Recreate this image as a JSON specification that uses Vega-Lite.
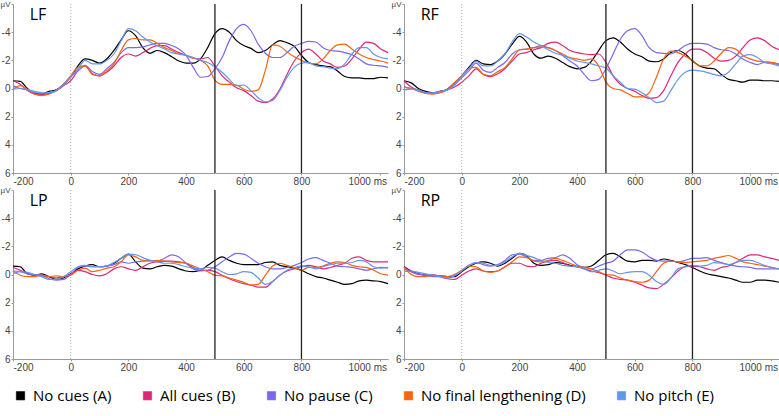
{
"$schema": "https://vega.github.io/schema/vega-lite/v6.json",
"padding": {"left": 0, "top": 0, "right": 0, "bottom": 5},
"background": "white",
"data": {"values": [
{"p":"LF","s":"A","t":-200,"v":-0.55},{"p":"LF","s":"A","t":-175,"v":-0.5},{"p":"LF","s":"A","t":-150,"v":0},{"p":"LF","s":"A","t":-125,"v":0.35},{"p":"LF","s":"A","t":-100,"v":0.4},{"p":"LF","s":"A","t":-75,"v":0.2},{"p":"LF","s":"A","t":-50,"v":0.1},{"p":"LF","s":"A","t":-25,"v":-0.3},{"p":"LF","s":"A","t":0,"v":-0.8},{"p":"LF","s":"A","t":25,"v":-1.6},{"p":"LF","s":"A","t":50,"v":-2.1},{"p":"LF","s":"A","t":75,"v":-2.0},{"p":"LF","s":"A","t":100,"v":-1.8},{"p":"LF","s":"A","t":125,"v":-2.1},{"p":"LF","s":"A","t":150,"v":-2.7},{"p":"LF","s":"A","t":175,"v":-3.45},{"p":"LF","s":"A","t":200,"v":-4.1},{"p":"LF","s":"A","t":225,"v":-3.75},{"p":"LF","s":"A","t":250,"v":-2.9},{"p":"LF","s":"A","t":275,"v":-2.5},{"p":"LF","s":"A","t":300,"v":-2.7},{"p":"LF","s":"A","t":325,"v":-2.55},{"p":"LF","s":"A","t":350,"v":-2.25},{"p":"LF","s":"A","t":375,"v":-1.95},{"p":"LF","s":"A","t":400,"v":-1.8},{"p":"LF","s":"A","t":425,"v":-1.8},{"p":"LF","s":"A","t":450,"v":-2.1},{"p":"LF","s":"A","t":475,"v":-2.9},{"p":"LF","s":"A","t":500,"v":-3.9},{"p":"LF","s":"A","t":525,"v":-4.25},{"p":"LF","s":"A","t":550,"v":-4.0},{"p":"LF","s":"A","t":575,"v":-3.4},{"p":"LF","s":"A","t":600,"v":-3.05},{"p":"LF","s":"A","t":625,"v":-2.85},{"p":"LF","s":"A","t":650,"v":-2.55},{"p":"LF","s":"A","t":675,"v":-2.7},{"p":"LF","s":"A","t":700,"v":-3.1},{"p":"LF","s":"A","t":725,"v":-3.4},{"p":"LF","s":"A","t":750,"v":-3.25},{"p":"LF","s":"A","t":775,"v":-3.0},{"p":"LF","s":"A","t":800,"v":-2.35},{"p":"LF","s":"A","t":825,"v":-1.85},{"p":"LF","s":"A","t":850,"v":-1.7},{"p":"LF","s":"A","t":875,"v":-1.6},{"p":"LF","s":"A","t":900,"v":-1.55},{"p":"LF","s":"A","t":925,"v":-1.25},{"p":"LF","s":"A","t":950,"v":-0.85},{"p":"LF","s":"A","t":975,"v":-0.75},{"p":"LF","s":"A","t":1000,"v":-0.75},{"p":"LF","s":"A","t":1025,"v":-0.7},{"p":"LF","s":"A","t":1050,"v":-0.7},{"p":"LF","s":"A","t":1075,"v":-0.8},{"p":"LF","s":"A","t":1100,"v":-0.75},
{"p":"LF","s":"B","t":-200,"v":-0.55},{"p":"LF","s":"B","t":-175,"v":-0.3},{"p":"LF","s":"B","t":-150,"v":0.15},{"p":"LF","s":"B","t":-125,"v":0.4},{"p":"LF","s":"B","t":-100,"v":0.45},{"p":"LF","s":"B","t":-75,"v":0.35},{"p":"LF","s":"B","t":-50,"v":0.15},{"p":"LF","s":"B","t":-25,"v":-0.2},{"p":"LF","s":"B","t":0,"v":-0.55},{"p":"LF","s":"B","t":25,"v":-1.25},{"p":"LF","s":"B","t":50,"v":-1.6},{"p":"LF","s":"B","t":75,"v":-1.05},{"p":"LF","s":"B","t":100,"v":-0.9},{"p":"LF","s":"B","t":125,"v":-1.15},{"p":"LF","s":"B","t":150,"v":-1.6},{"p":"LF","s":"B","t":175,"v":-2.2},{"p":"LF","s":"B","t":200,"v":-2.45},{"p":"LF","s":"B","t":225,"v":-2.3},{"p":"LF","s":"B","t":250,"v":-2.55},{"p":"LF","s":"B","t":275,"v":-2.85},{"p":"LF","s":"B","t":300,"v":-3.05},{"p":"LF","s":"B","t":325,"v":-3.05},{"p":"LF","s":"B","t":350,"v":-2.8},{"p":"LF","s":"B","t":375,"v":-2.55},{"p":"LF","s":"B","t":400,"v":-2.35},{"p":"LF","s":"B","t":425,"v":-2.15},{"p":"LF","s":"B","t":450,"v":-2.1},{"p":"LF","s":"B","t":475,"v":-2.2},{"p":"LF","s":"B","t":500,"v":-1.6},{"p":"LF","s":"B","t":525,"v":-0.9},{"p":"LF","s":"B","t":550,"v":-0.45},{"p":"LF","s":"B","t":575,"v":-0.05},{"p":"LF","s":"B","t":600,"v":0.15},{"p":"LF","s":"B","t":625,"v":0.5},{"p":"LF","s":"B","t":650,"v":0.9},{"p":"LF","s":"B","t":675,"v":1.0},{"p":"LF","s":"B","t":700,"v":0.75},{"p":"LF","s":"B","t":725,"v":0.05},{"p":"LF","s":"B","t":750,"v":-1.0},{"p":"LF","s":"B","t":775,"v":-1.95},{"p":"LF","s":"B","t":800,"v":-2.55},{"p":"LF","s":"B","t":825,"v":-2.8},{"p":"LF","s":"B","t":850,"v":-2.45},{"p":"LF","s":"B","t":875,"v":-1.95},{"p":"LF","s":"B","t":900,"v":-1.75},{"p":"LF","s":"B","t":925,"v":-1.5},{"p":"LF","s":"B","t":950,"v":-1.6},{"p":"LF","s":"B","t":975,"v":-2.1},{"p":"LF","s":"B","t":1000,"v":-2.8},{"p":"LF","s":"B","t":1025,"v":-3.3},{"p":"LF","s":"B","t":1050,"v":-3.2},{"p":"LF","s":"B","t":1075,"v":-2.8},{"p":"LF","s":"B","t":1100,"v":-2.55},
{"p":"LF","s":"C","t":-200,"v":-0.2},{"p":"LF","s":"C","t":-175,"v":0},{"p":"LF","s":"C","t":-150,"v":0.1},{"p":"LF","s":"C","t":-125,"v":0.3},{"p":"LF","s":"C","t":-100,"v":0.35},{"p":"LF","s":"C","t":-75,"v":0.3},{"p":"LF","s":"C","t":-50,"v":0.15},{"p":"LF","s":"C","t":-25,"v":-0.25},{"p":"LF","s":"C","t":0,"v":-0.85},{"p":"LF","s":"C","t":25,"v":-1.25},{"p":"LF","s":"C","t":50,"v":-1.65},{"p":"LF","s":"C","t":75,"v":-1.2},{"p":"LF","s":"C","t":100,"v":-1.0},{"p":"LF","s":"C","t":125,"v":-1.4},{"p":"LF","s":"C","t":150,"v":-1.85},{"p":"LF","s":"C","t":175,"v":-2.55},{"p":"LF","s":"C","t":200,"v":-2.9},{"p":"LF","s":"C","t":225,"v":-2.9},{"p":"LF","s":"C","t":250,"v":-2.95},{"p":"LF","s":"C","t":275,"v":-3.1},{"p":"LF","s":"C","t":300,"v":-3.2},{"p":"LF","s":"C","t":325,"v":-3.2},{"p":"LF","s":"C","t":350,"v":-3.05},{"p":"LF","s":"C","t":375,"v":-2.8},{"p":"LF","s":"C","t":400,"v":-2.35},{"p":"LF","s":"C","t":425,"v":-1.5},{"p":"LF","s":"C","t":450,"v":-0.8},{"p":"LF","s":"C","t":475,"v":-0.85},{"p":"LF","s":"C","t":500,"v":-1.4},{"p":"LF","s":"C","t":525,"v":-2.2},{"p":"LF","s":"C","t":550,"v":-3.4},{"p":"LF","s":"C","t":575,"v":-4.25},{"p":"LF","s":"C","t":600,"v":-4.55},{"p":"LF","s":"C","t":625,"v":-4.1},{"p":"LF","s":"C","t":650,"v":-3.15},{"p":"LF","s":"C","t":675,"v":-2.5},{"p":"LF","s":"C","t":700,"v":-2.2},{"p":"LF","s":"C","t":725,"v":-2.2},{"p":"LF","s":"C","t":750,"v":-2.55},{"p":"LF","s":"C","t":775,"v":-3.0},{"p":"LF","s":"C","t":800,"v":-3.2},{"p":"LF","s":"C","t":825,"v":-3.35},{"p":"LF","s":"C","t":850,"v":-3.3},{"p":"LF","s":"C","t":875,"v":-2.9},{"p":"LF","s":"C","t":900,"v":-2.7},{"p":"LF","s":"C","t":925,"v":-2.65},{"p":"LF","s":"C","t":950,"v":-2.55},{"p":"LF","s":"C","t":975,"v":-2.4},{"p":"LF","s":"C","t":1000,"v":-2.1},{"p":"LF","s":"C","t":1025,"v":-1.75},{"p":"LF","s":"C","t":1050,"v":-1.65},{"p":"LF","s":"C","t":1075,"v":-1.6},{"p":"LF","s":"C","t":1100,"v":-1.5},
{"p":"LF","s":"D","t":-200,"v":0.05},{"p":"LF","s":"D","t":-175,"v":-0.2},{"p":"LF","s":"D","t":-150,"v":0.05},{"p":"LF","s":"D","t":-125,"v":0.4},{"p":"LF","s":"D","t":-100,"v":0.5},{"p":"LF","s":"D","t":-75,"v":0.4},{"p":"LF","s":"D","t":-50,"v":0.15},{"p":"LF","s":"D","t":-25,"v":-0.3},{"p":"LF","s":"D","t":0,"v":-0.9},{"p":"LF","s":"D","t":25,"v":-1.5},{"p":"LF","s":"D","t":50,"v":-1.6},{"p":"LF","s":"D","t":75,"v":-1.0},{"p":"LF","s":"D","t":100,"v":-0.9},{"p":"LF","s":"D","t":125,"v":-1.25},{"p":"LF","s":"D","t":150,"v":-1.75},{"p":"LF","s":"D","t":175,"v":-2.7},{"p":"LF","s":"D","t":200,"v":-3.45},{"p":"LF","s":"D","t":225,"v":-3.55},{"p":"LF","s":"D","t":250,"v":-3.45},{"p":"LF","s":"D","t":275,"v":-3.45},{"p":"LF","s":"D","t":300,"v":-3.2},{"p":"LF","s":"D","t":325,"v":-2.9},{"p":"LF","s":"D","t":350,"v":-2.7},{"p":"LF","s":"D","t":375,"v":-2.45},{"p":"LF","s":"D","t":400,"v":-2.35},{"p":"LF","s":"D","t":425,"v":-2.15},{"p":"LF","s":"D","t":450,"v":-2.0},{"p":"LF","s":"D","t":475,"v":-1.6},{"p":"LF","s":"D","t":500,"v":-0.6},{"p":"LF","s":"D","t":525,"v":-0.3},{"p":"LF","s":"D","t":550,"v":-0.3},{"p":"LF","s":"D","t":575,"v":-0.25},{"p":"LF","s":"D","t":600,"v":0.05},{"p":"LF","s":"D","t":625,"v":0.2},{"p":"LF","s":"D","t":650,"v":0.1},{"p":"LF","s":"D","t":675,"v":-1.3},{"p":"LF","s":"D","t":700,"v":-3.1},{"p":"LF","s":"D","t":725,"v":-3.0},{"p":"LF","s":"D","t":750,"v":-2.6},{"p":"LF","s":"D","t":775,"v":-2.25},{"p":"LF","s":"D","t":800,"v":-2.0},{"p":"LF","s":"D","t":825,"v":-1.8},{"p":"LF","s":"D","t":850,"v":-1.75},{"p":"LF","s":"D","t":875,"v":-2.1},{"p":"LF","s":"D","t":900,"v":-2.7},{"p":"LF","s":"D","t":925,"v":-3.1},{"p":"LF","s":"D","t":950,"v":-3.15},{"p":"LF","s":"D","t":975,"v":-2.8},{"p":"LF","s":"D","t":1000,"v":-2.45},{"p":"LF","s":"D","t":1025,"v":-2.2},{"p":"LF","s":"D","t":1050,"v":-2.05},{"p":"LF","s":"D","t":1075,"v":-1.95},{"p":"LF","s":"D","t":1100,"v":-1.8},
{"p":"LF","s":"E","t":-200,"v":0.05},{"p":"LF","s":"E","t":-175,"v":0},{"p":"LF","s":"E","t":-150,"v":0.1},{"p":"LF","s":"E","t":-125,"v":0.2},{"p":"LF","s":"E","t":-100,"v":0.3},{"p":"LF","s":"E","t":-75,"v":0.3},{"p":"LF","s":"E","t":-50,"v":0.15},{"p":"LF","s":"E","t":-25,"v":-0.3},{"p":"LF","s":"E","t":0,"v":-0.8},{"p":"LF","s":"E","t":25,"v":-1.4},{"p":"LF","s":"E","t":50,"v":-2.0},{"p":"LF","s":"E","t":75,"v":-1.75},{"p":"LF","s":"E","t":100,"v":-1.75},{"p":"LF","s":"E","t":125,"v":-2.0},{"p":"LF","s":"E","t":150,"v":-2.45},{"p":"LF","s":"E","t":175,"v":-3.4},{"p":"LF","s":"E","t":200,"v":-4.25},{"p":"LF","s":"E","t":225,"v":-4.1},{"p":"LF","s":"E","t":250,"v":-3.65},{"p":"LF","s":"E","t":275,"v":-3.3},{"p":"LF","s":"E","t":300,"v":-3.05},{"p":"LF","s":"E","t":325,"v":-2.8},{"p":"LF","s":"E","t":350,"v":-2.55},{"p":"LF","s":"E","t":375,"v":-2.45},{"p":"LF","s":"E","t":400,"v":-2.35},{"p":"LF","s":"E","t":425,"v":-2.2},{"p":"LF","s":"E","t":450,"v":-2.0},{"p":"LF","s":"E","t":475,"v":-1.85},{"p":"LF","s":"E","t":500,"v":-1.55},{"p":"LF","s":"E","t":525,"v":-1.15},{"p":"LF","s":"E","t":550,"v":-0.65},{"p":"LF","s":"E","t":575,"v":-0.2},{"p":"LF","s":"E","t":600,"v":-0.25},{"p":"LF","s":"E","t":625,"v":0.15},{"p":"LF","s":"E","t":650,"v":0.65},{"p":"LF","s":"E","t":675,"v":0.95},{"p":"LF","s":"E","t":700,"v":0.85},{"p":"LF","s":"E","t":725,"v":0.15},{"p":"LF","s":"E","t":750,"v":-0.8},{"p":"LF","s":"E","t":775,"v":-1.5},{"p":"LF","s":"E","t":800,"v":-1.8},{"p":"LF","s":"E","t":825,"v":-1.85},{"p":"LF","s":"E","t":850,"v":-1.6},{"p":"LF","s":"E","t":875,"v":-1.55},{"p":"LF","s":"E","t":900,"v":-1.45},{"p":"LF","s":"E","t":925,"v":-1.4},{"p":"LF","s":"E","t":950,"v":-1.75},{"p":"LF","s":"E","t":975,"v":-2.45},{"p":"LF","s":"E","t":1000,"v":-2.9},{"p":"LF","s":"E","t":1025,"v":-2.9},{"p":"LF","s":"E","t":1050,"v":-2.45},{"p":"LF","s":"E","t":1075,"v":-2.2},{"p":"LF","s":"E","t":1100,"v":-2.1},
{"p":"RF","s":"A","t":-200,"v":-0.55},{"p":"RF","s":"A","t":-175,"v":-0.4},{"p":"RF","s":"A","t":-150,"v":0},{"p":"RF","s":"A","t":-125,"v":0.2},{"p":"RF","s":"A","t":-100,"v":0.3},{"p":"RF","s":"A","t":-75,"v":0.2},{"p":"RF","s":"A","t":-50,"v":0.05},{"p":"RF","s":"A","t":-25,"v":-0.4},{"p":"RF","s":"A","t":0,"v":-0.9},{"p":"RF","s":"A","t":25,"v":-1.5},{"p":"RF","s":"A","t":50,"v":-2.0},{"p":"RF","s":"A","t":75,"v":-1.75},{"p":"RF","s":"A","t":100,"v":-1.7},{"p":"RF","s":"A","t":125,"v":-1.95},{"p":"RF","s":"A","t":150,"v":-2.45},{"p":"RF","s":"A","t":175,"v":-3.15},{"p":"RF","s":"A","t":200,"v":-3.7},{"p":"RF","s":"A","t":225,"v":-3.3},{"p":"RF","s":"A","t":250,"v":-2.45},{"p":"RF","s":"A","t":275,"v":-2.15},{"p":"RF","s":"A","t":300,"v":-2.3},{"p":"RF","s":"A","t":325,"v":-2.15},{"p":"RF","s":"A","t":350,"v":-1.85},{"p":"RF","s":"A","t":375,"v":-1.55},{"p":"RF","s":"A","t":400,"v":-1.4},{"p":"RF","s":"A","t":425,"v":-1.5},{"p":"RF","s":"A","t":450,"v":-1.95},{"p":"RF","s":"A","t":475,"v":-2.7},{"p":"RF","s":"A","t":500,"v":-3.4},{"p":"RF","s":"A","t":525,"v":-3.6},{"p":"RF","s":"A","t":550,"v":-3.3},{"p":"RF","s":"A","t":575,"v":-2.8},{"p":"RF","s":"A","t":600,"v":-2.45},{"p":"RF","s":"A","t":625,"v":-2.25},{"p":"RF","s":"A","t":650,"v":-1.95},{"p":"RF","s":"A","t":675,"v":-1.9},{"p":"RF","s":"A","t":700,"v":-2.1},{"p":"RF","s":"A","t":725,"v":-2.55},{"p":"RF","s":"A","t":750,"v":-2.7},{"p":"RF","s":"A","t":775,"v":-2.45},{"p":"RF","s":"A","t":800,"v":-1.95},{"p":"RF","s":"A","t":825,"v":-1.6},{"p":"RF","s":"A","t":850,"v":-1.45},{"p":"RF","s":"A","t":875,"v":-1.4},{"p":"RF","s":"A","t":900,"v":-1.0},{"p":"RF","s":"A","t":925,"v":-0.65},{"p":"RF","s":"A","t":950,"v":-0.55},{"p":"RF","s":"A","t":975,"v":-0.45},{"p":"RF","s":"A","t":1000,"v":-0.6},{"p":"RF","s":"A","t":1025,"v":-0.6},{"p":"RF","s":"A","t":1050,"v":-0.55},{"p":"RF","s":"A","t":1075,"v":-0.55},{"p":"RF","s":"A","t":1100,"v":-0.5},
{"p":"RF","s":"B","t":-200,"v":-0.55},{"p":"RF","s":"B","t":-175,"v":-0.1},{"p":"RF","s":"B","t":-150,"v":0.15},{"p":"RF","s":"B","t":-125,"v":0.3},{"p":"RF","s":"B","t":-100,"v":0.35},{"p":"RF","s":"B","t":-75,"v":0.2},{"p":"RF","s":"B","t":-50,"v":0.1},{"p":"RF","s":"B","t":-25,"v":-0.1},{"p":"RF","s":"B","t":0,"v":-0.45},{"p":"RF","s":"B","t":25,"v":-0.9},{"p":"RF","s":"B","t":50,"v":-1.4},{"p":"RF","s":"B","t":75,"v":-1.0},{"p":"RF","s":"B","t":100,"v":-0.85},{"p":"RF","s":"B","t":125,"v":-1.05},{"p":"RF","s":"B","t":150,"v":-1.4},{"p":"RF","s":"B","t":175,"v":-1.95},{"p":"RF","s":"B","t":200,"v":-2.45},{"p":"RF","s":"B","t":225,"v":-2.55},{"p":"RF","s":"B","t":250,"v":-2.75},{"p":"RF","s":"B","t":275,"v":-2.9},{"p":"RF","s":"B","t":300,"v":-3.2},{"p":"RF","s":"B","t":325,"v":-3.3},{"p":"RF","s":"B","t":350,"v":-3.05},{"p":"RF","s":"B","t":375,"v":-2.7},{"p":"RF","s":"B","t":400,"v":-2.55},{"p":"RF","s":"B","t":425,"v":-2.45},{"p":"RF","s":"B","t":450,"v":-2.4},{"p":"RF","s":"B","t":475,"v":-2.45},{"p":"RF","s":"B","t":500,"v":-1.85},{"p":"RF","s":"B","t":525,"v":-0.9},{"p":"RF","s":"B","t":550,"v":-0.3},{"p":"RF","s":"B","t":575,"v":0},{"p":"RF","s":"B","t":600,"v":0.2},{"p":"RF","s":"B","t":625,"v":0.5},{"p":"RF","s":"B","t":650,"v":0.7},{"p":"RF","s":"B","t":675,"v":0.65},{"p":"RF","s":"B","t":700,"v":0.15},{"p":"RF","s":"B","t":725,"v":-0.9},{"p":"RF","s":"B","t":750,"v":-1.85},{"p":"RF","s":"B","t":775,"v":-2.45},{"p":"RF","s":"B","t":800,"v":-2.8},{"p":"RF","s":"B","t":825,"v":-2.8},{"p":"RF","s":"B","t":850,"v":-2.55},{"p":"RF","s":"B","t":875,"v":-2.15},{"p":"RF","s":"B","t":900,"v":-1.95},{"p":"RF","s":"B","t":925,"v":-2.0},{"p":"RF","s":"B","t":950,"v":-2.3},{"p":"RF","s":"B","t":975,"v":-2.9},{"p":"RF","s":"B","t":1000,"v":-3.45},{"p":"RF","s":"B","t":1025,"v":-3.6},{"p":"RF","s":"B","t":1050,"v":-3.4},{"p":"RF","s":"B","t":1075,"v":-3.0},{"p":"RF","s":"B","t":1100,"v":-2.75},
{"p":"RF","s":"C","t":-200,"v":-0.1},{"p":"RF","s":"C","t":-175,"v":0},{"p":"RF","s":"C","t":-150,"v":0.1},{"p":"RF","s":"C","t":-125,"v":0.3},{"p":"RF","s":"C","t":-100,"v":0.35},{"p":"RF","s":"C","t":-75,"v":0.3},{"p":"RF","s":"C","t":-50,"v":0.1},{"p":"RF","s":"C","t":-25,"v":-0.25},{"p":"RF","s":"C","t":0,"v":-0.75},{"p":"RF","s":"C","t":25,"v":-1.25},{"p":"RF","s":"C","t":50,"v":-1.8},{"p":"RF","s":"C","t":75,"v":-1.3},{"p":"RF","s":"C","t":100,"v":-1.15},{"p":"RF","s":"C","t":125,"v":-1.5},{"p":"RF","s":"C","t":150,"v":-1.85},{"p":"RF","s":"C","t":175,"v":-2.45},{"p":"RF","s":"C","t":200,"v":-2.75},{"p":"RF","s":"C","t":225,"v":-2.8},{"p":"RF","s":"C","t":250,"v":-2.9},{"p":"RF","s":"C","t":275,"v":-3.05},{"p":"RF","s":"C","t":300,"v":-2.9},{"p":"RF","s":"C","t":325,"v":-2.7},{"p":"RF","s":"C","t":350,"v":-2.35},{"p":"RF","s":"C","t":375,"v":-1.95},{"p":"RF","s":"C","t":400,"v":-1.6},{"p":"RF","s":"C","t":425,"v":-1.0},{"p":"RF","s":"C","t":450,"v":-0.55},{"p":"RF","s":"C","t":475,"v":-0.65},{"p":"RF","s":"C","t":500,"v":-1.4},{"p":"RF","s":"C","t":525,"v":-2.45},{"p":"RF","s":"C","t":550,"v":-3.5},{"p":"RF","s":"C","t":575,"v":-4.1},{"p":"RF","s":"C","t":600,"v":-4.25},{"p":"RF","s":"C","t":625,"v":-3.75},{"p":"RF","s":"C","t":650,"v":-2.9},{"p":"RF","s":"C","t":675,"v":-2.55},{"p":"RF","s":"C","t":700,"v":-2.5},{"p":"RF","s":"C","t":725,"v":-2.45},{"p":"RF","s":"C","t":750,"v":-2.7},{"p":"RF","s":"C","t":775,"v":-3.05},{"p":"RF","s":"C","t":800,"v":-3.2},{"p":"RF","s":"C","t":825,"v":-3.2},{"p":"RF","s":"C","t":850,"v":-3.15},{"p":"RF","s":"C","t":875,"v":-2.9},{"p":"RF","s":"C","t":900,"v":-2.75},{"p":"RF","s":"C","t":925,"v":-2.7},{"p":"RF","s":"C","t":950,"v":-2.45},{"p":"RF","s":"C","t":975,"v":-2.1},{"p":"RF","s":"C","t":1000,"v":-1.85},{"p":"RF","s":"C","t":1025,"v":-1.7},{"p":"RF","s":"C","t":1050,"v":-1.85},{"p":"RF","s":"C","t":1075,"v":-1.8},{"p":"RF","s":"C","t":1100,"v":-1.7},
{"p":"RF","s":"D","t":-200,"v":-0.1},{"p":"RF","s":"D","t":-175,"v":0},{"p":"RF","s":"D","t":-150,"v":0.2},{"p":"RF","s":"D","t":-125,"v":0.35},{"p":"RF","s":"D","t":-100,"v":0.4},{"p":"RF","s":"D","t":-75,"v":0.3},{"p":"RF","s":"D","t":-50,"v":0.05},{"p":"RF","s":"D","t":-25,"v":-0.4},{"p":"RF","s":"D","t":0,"v":-0.9},{"p":"RF","s":"D","t":25,"v":-1.4},{"p":"RF","s":"D","t":50,"v":-1.5},{"p":"RF","s":"D","t":75,"v":-1.0},{"p":"RF","s":"D","t":100,"v":-0.9},{"p":"RF","s":"D","t":125,"v":-1.2},{"p":"RF","s":"D","t":150,"v":-1.5},{"p":"RF","s":"D","t":175,"v":-2.1},{"p":"RF","s":"D","t":200,"v":-2.75},{"p":"RF","s":"D","t":225,"v":-2.8},{"p":"RF","s":"D","t":250,"v":-2.9},{"p":"RF","s":"D","t":275,"v":-2.95},{"p":"RF","s":"D","t":300,"v":-2.9},{"p":"RF","s":"D","t":325,"v":-2.7},{"p":"RF","s":"D","t":350,"v":-2.45},{"p":"RF","s":"D","t":375,"v":-2.2},{"p":"RF","s":"D","t":400,"v":-2.1},{"p":"RF","s":"D","t":425,"v":-2.0},{"p":"RF","s":"D","t":450,"v":-2.1},{"p":"RF","s":"D","t":475,"v":-1.6},{"p":"RF","s":"D","t":500,"v":-0.45},{"p":"RF","s":"D","t":525,"v":0},{"p":"RF","s":"D","t":550,"v":0.1},{"p":"RF","s":"D","t":575,"v":0.35},{"p":"RF","s":"D","t":600,"v":0.6},{"p":"RF","s":"D","t":625,"v":0.6},{"p":"RF","s":"D","t":650,"v":0.3},{"p":"RF","s":"D","t":675,"v":-0.8},{"p":"RF","s":"D","t":700,"v":-2.1},{"p":"RF","s":"D","t":725,"v":-2.65},{"p":"RF","s":"D","t":750,"v":-2.55},{"p":"RF","s":"D","t":775,"v":-2.3},{"p":"RF","s":"D","t":800,"v":-2.0},{"p":"RF","s":"D","t":825,"v":-1.6},{"p":"RF","s":"D","t":850,"v":-1.6},{"p":"RF","s":"D","t":875,"v":-1.95},{"p":"RF","s":"D","t":900,"v":-2.5},{"p":"RF","s":"D","t":925,"v":-2.9},{"p":"RF","s":"D","t":950,"v":-2.8},{"p":"RF","s":"D","t":975,"v":-2.35},{"p":"RF","s":"D","t":1000,"v":-2.1},{"p":"RF","s":"D","t":1025,"v":-1.95},{"p":"RF","s":"D","t":1050,"v":-1.9},{"p":"RF","s":"D","t":1075,"v":-1.85},{"p":"RF","s":"D","t":1100,"v":-1.75},
{"p":"RF","s":"E","t":-200,"v":0.1},{"p":"RF","s":"E","t":-175,"v":0.05},{"p":"RF","s":"E","t":-150,"v":0.15},{"p":"RF","s":"E","t":-125,"v":0.3},{"p":"RF","s":"E","t":-100,"v":0.3},{"p":"RF","s":"E","t":-75,"v":0.2},{"p":"RF","s":"E","t":-50,"v":0.1},{"p":"RF","s":"E","t":-25,"v":-0.3},{"p":"RF","s":"E","t":0,"v":-0.85},{"p":"RF","s":"E","t":25,"v":-1.4},{"p":"RF","s":"E","t":50,"v":-1.95},{"p":"RF","s":"E","t":75,"v":-1.6},{"p":"RF","s":"E","t":100,"v":-1.6},{"p":"RF","s":"E","t":125,"v":-1.95},{"p":"RF","s":"E","t":150,"v":-2.45},{"p":"RF","s":"E","t":175,"v":-3.3},{"p":"RF","s":"E","t":200,"v":-3.9},{"p":"RF","s":"E","t":225,"v":-3.65},{"p":"RF","s":"E","t":250,"v":-3.3},{"p":"RF","s":"E","t":275,"v":-3.05},{"p":"RF","s":"E","t":300,"v":-2.75},{"p":"RF","s":"E","t":325,"v":-2.5},{"p":"RF","s":"E","t":350,"v":-2.35},{"p":"RF","s":"E","t":375,"v":-2.15},{"p":"RF","s":"E","t":400,"v":-1.95},{"p":"RF","s":"E","t":425,"v":-1.85},{"p":"RF","s":"E","t":450,"v":-1.75},{"p":"RF","s":"E","t":475,"v":-1.6},{"p":"RF","s":"E","t":500,"v":-1.45},{"p":"RF","s":"E","t":525,"v":-0.9},{"p":"RF","s":"E","t":550,"v":-0.45},{"p":"RF","s":"E","t":575,"v":0},{"p":"RF","s":"E","t":600,"v":0.05},{"p":"RF","s":"E","t":625,"v":0.3},{"p":"RF","s":"E","t":650,"v":0.65},{"p":"RF","s":"E","t":675,"v":1.0},{"p":"RF","s":"E","t":700,"v":0.9},{"p":"RF","s":"E","t":725,"v":0.15},{"p":"RF","s":"E","t":750,"v":-0.65},{"p":"RF","s":"E","t":775,"v":-1.15},{"p":"RF","s":"E","t":800,"v":-1.3},{"p":"RF","s":"E","t":825,"v":-1.25},{"p":"RF","s":"E","t":850,"v":-1.15},{"p":"RF","s":"E","t":875,"v":-1.0},{"p":"RF","s":"E","t":900,"v":-0.9},{"p":"RF","s":"E","t":925,"v":-1.15},{"p":"RF","s":"E","t":950,"v":-1.75},{"p":"RF","s":"E","t":975,"v":-2.3},{"p":"RF","s":"E","t":1000,"v":-2.4},{"p":"RF","s":"E","t":1025,"v":-2.2},{"p":"RF","s":"E","t":1050,"v":-1.85},{"p":"RF","s":"E","t":1075,"v":-1.75},{"p":"RF","s":"E","t":1100,"v":-1.6},
{"p":"LP","s":"A","t":-200,"v":-0.6},{"p":"LP","s":"A","t":-175,"v":-0.55},{"p":"LP","s":"A","t":-150,"v":-0.05},{"p":"LP","s":"A","t":-125,"v":0.05},{"p":"LP","s":"A","t":-100,"v":-0.05},{"p":"LP","s":"A","t":-75,"v":0.15},{"p":"LP","s":"A","t":-50,"v":0.35},{"p":"LP","s":"A","t":-25,"v":0.25},{"p":"LP","s":"A","t":0,"v":-0.05},{"p":"LP","s":"A","t":25,"v":-0.4},{"p":"LP","s":"A","t":50,"v":-0.6},{"p":"LP","s":"A","t":75,"v":-0.7},{"p":"LP","s":"A","t":100,"v":-0.55},{"p":"LP","s":"A","t":125,"v":-0.6},{"p":"LP","s":"A","t":150,"v":-0.8},{"p":"LP","s":"A","t":175,"v":-1.15},{"p":"LP","s":"A","t":200,"v":-1.45},{"p":"LP","s":"A","t":225,"v":-0.9},{"p":"LP","s":"A","t":250,"v":-0.45},{"p":"LP","s":"A","t":275,"v":-0.4},{"p":"LP","s":"A","t":300,"v":-0.55},{"p":"LP","s":"A","t":325,"v":-0.65},{"p":"LP","s":"A","t":350,"v":-0.6},{"p":"LP","s":"A","t":375,"v":-0.4},{"p":"LP","s":"A","t":400,"v":-0.25},{"p":"LP","s":"A","t":425,"v":-0.2},{"p":"LP","s":"A","t":450,"v":-0.3},{"p":"LP","s":"A","t":475,"v":-0.65},{"p":"LP","s":"A","t":500,"v":-1.0},{"p":"LP","s":"A","t":525,"v":-1.25},{"p":"LP","s":"A","t":550,"v":-1.0},{"p":"LP","s":"A","t":575,"v":-0.8},{"p":"LP","s":"A","t":600,"v":-0.7},{"p":"LP","s":"A","t":625,"v":-0.7},{"p":"LP","s":"A","t":650,"v":-0.7},{"p":"LP","s":"A","t":675,"v":-0.85},{"p":"LP","s":"A","t":700,"v":-0.9},{"p":"LP","s":"A","t":725,"v":-0.65},{"p":"LP","s":"A","t":750,"v":-0.55},{"p":"LP","s":"A","t":775,"v":-0.45},{"p":"LP","s":"A","t":800,"v":-0.3},{"p":"LP","s":"A","t":825,"v":-0.05},{"p":"LP","s":"A","t":850,"v":0.15},{"p":"LP","s":"A","t":875,"v":0.25},{"p":"LP","s":"A","t":900,"v":0.4},{"p":"LP","s":"A","t":925,"v":0.55},{"p":"LP","s":"A","t":950,"v":0.7},{"p":"LP","s":"A","t":975,"v":0.65},{"p":"LP","s":"A","t":1000,"v":0.45},{"p":"LP","s":"A","t":1025,"v":0.4},{"p":"LP","s":"A","t":1050,"v":0.45},{"p":"LP","s":"A","t":1075,"v":0.5},{"p":"LP","s":"A","t":1100,"v":0.65},
{"p":"LP","s":"B","t":-200,"v":-0.5},{"p":"LP","s":"B","t":-175,"v":-0.3},{"p":"LP","s":"B","t":-150,"v":-0.05},{"p":"LP","s":"B","t":-125,"v":0.05},{"p":"LP","s":"B","t":-100,"v":0.1},{"p":"LP","s":"B","t":-75,"v":0.15},{"p":"LP","s":"B","t":-50,"v":0.25},{"p":"LP","s":"B","t":-25,"v":0.15},{"p":"LP","s":"B","t":0,"v":0.05},{"p":"LP","s":"B","t":25,"v":-0.3},{"p":"LP","s":"B","t":50,"v":-0.2},{"p":"LP","s":"B","t":75,"v":0},{"p":"LP","s":"B","t":100,"v":0.1},{"p":"LP","s":"B","t":125,"v":-0.05},{"p":"LP","s":"B","t":150,"v":-0.4},{"p":"LP","s":"B","t":175,"v":-0.55},{"p":"LP","s":"B","t":200,"v":-0.4},{"p":"LP","s":"B","t":225,"v":-0.3},{"p":"LP","s":"B","t":250,"v":-0.55},{"p":"LP","s":"B","t":275,"v":-0.8},{"p":"LP","s":"B","t":300,"v":-0.9},{"p":"LP","s":"B","t":325,"v":-0.95},{"p":"LP","s":"B","t":350,"v":-0.95},{"p":"LP","s":"B","t":375,"v":-0.9},{"p":"LP","s":"B","t":400,"v":-0.8},{"p":"LP","s":"B","t":425,"v":-0.5},{"p":"LP","s":"B","t":450,"v":-0.3},{"p":"LP","s":"B","t":475,"v":-0.3},{"p":"LP","s":"B","t":500,"v":-0.2},{"p":"LP","s":"B","t":525,"v":0.05},{"p":"LP","s":"B","t":550,"v":0.3},{"p":"LP","s":"B","t":575,"v":0.5},{"p":"LP","s":"B","t":600,"v":0.65},{"p":"LP","s":"B","t":625,"v":0.75},{"p":"LP","s":"B","t":650,"v":0.9},{"p":"LP","s":"B","t":675,"v":0.9},{"p":"LP","s":"B","t":700,"v":0.5},{"p":"LP","s":"B","t":725,"v":0.05},{"p":"LP","s":"B","t":750,"v":-0.25},{"p":"LP","s":"B","t":775,"v":-0.4},{"p":"LP","s":"B","t":800,"v":-0.55},{"p":"LP","s":"B","t":825,"v":-0.65},{"p":"LP","s":"B","t":850,"v":-0.55},{"p":"LP","s":"B","t":875,"v":-0.4},{"p":"LP","s":"B","t":900,"v":-0.5},{"p":"LP","s":"B","t":925,"v":-0.65},{"p":"LP","s":"B","t":950,"v":-0.8},{"p":"LP","s":"B","t":975,"v":-1.15},{"p":"LP","s":"B","t":1000,"v":-1.25},{"p":"LP","s":"B","t":1025,"v":-1.0},{"p":"LP","s":"B","t":1050,"v":-0.9},{"p":"LP","s":"B","t":1075,"v":-0.9},{"p":"LP","s":"B","t":1100,"v":-0.9},
{"p":"LP","s":"C","t":-200,"v":-0.25},{"p":"LP","s":"C","t":-175,"v":-0.2},{"p":"LP","s":"C","t":-150,"v":-0.05},{"p":"LP","s":"C","t":-125,"v":0},{"p":"LP","s":"C","t":-100,"v":0.05},{"p":"LP","s":"C","t":-75,"v":0.3},{"p":"LP","s":"C","t":-50,"v":0.4},{"p":"LP","s":"C","t":-25,"v":0.35},{"p":"LP","s":"C","t":0,"v":0},{"p":"LP","s":"C","t":25,"v":-0.5},{"p":"LP","s":"C","t":50,"v":-0.6},{"p":"LP","s":"C","t":75,"v":-0.55},{"p":"LP","s":"C","t":100,"v":-0.55},{"p":"LP","s":"C","t":125,"v":-0.6},{"p":"LP","s":"C","t":150,"v":-0.7},{"p":"LP","s":"C","t":175,"v":-0.9},{"p":"LP","s":"C","t":200,"v":-0.8},{"p":"LP","s":"C","t":225,"v":-0.9},{"p":"LP","s":"C","t":250,"v":-0.95},{"p":"LP","s":"C","t":275,"v":-1.0},{"p":"LP","s":"C","t":300,"v":-0.95},{"p":"LP","s":"C","t":325,"v":-1.15},{"p":"LP","s":"C","t":350,"v":-1.4},{"p":"LP","s":"C","t":375,"v":-1.25},{"p":"LP","s":"C","t":400,"v":-0.8},{"p":"LP","s":"C","t":425,"v":-0.4},{"p":"LP","s":"C","t":450,"v":-0.25},{"p":"LP","s":"C","t":475,"v":-0.3},{"p":"LP","s":"C","t":500,"v":-0.55},{"p":"LP","s":"C","t":525,"v":-0.9},{"p":"LP","s":"C","t":550,"v":-1.25},{"p":"LP","s":"C","t":575,"v":-1.5},{"p":"LP","s":"C","t":600,"v":-1.45},{"p":"LP","s":"C","t":625,"v":-1.15},{"p":"LP","s":"C","t":650,"v":-0.8},{"p":"LP","s":"C","t":675,"v":-0.55},{"p":"LP","s":"C","t":700,"v":-0.4},{"p":"LP","s":"C","t":725,"v":-0.4},{"p":"LP","s":"C","t":750,"v":-0.5},{"p":"LP","s":"C","t":775,"v":-0.65},{"p":"LP","s":"C","t":800,"v":-0.85},{"p":"LP","s":"C","t":825,"v":-1.1},{"p":"LP","s":"C","t":850,"v":-1.2},{"p":"LP","s":"C","t":875,"v":-1.0},{"p":"LP","s":"C","t":900,"v":-0.8},{"p":"LP","s":"C","t":925,"v":-0.6},{"p":"LP","s":"C","t":950,"v":-0.55},{"p":"LP","s":"C","t":975,"v":-0.5},{"p":"LP","s":"C","t":1000,"v":-0.4},{"p":"LP","s":"C","t":1025,"v":-0.3},{"p":"LP","s":"C","t":1050,"v":-0.4},{"p":"LP","s":"C","t":1075,"v":-0.5},{"p":"LP","s":"C","t":1100,"v":-0.45},
{"p":"LP","s":"D","t":-200,"v":-0.25},{"p":"LP","s":"D","t":-175,"v":0.05},{"p":"LP","s":"D","t":-150,"v":0.15},{"p":"LP","s":"D","t":-125,"v":0.15},{"p":"LP","s":"D","t":-100,"v":0.05},{"p":"LP","s":"D","t":-75,"v":0.15},{"p":"LP","s":"D","t":-50,"v":0.1},{"p":"LP","s":"D","t":-25,"v":0.15},{"p":"LP","s":"D","t":0,"v":0},{"p":"LP","s":"D","t":25,"v":-0.3},{"p":"LP","s":"D","t":50,"v":-0.45},{"p":"LP","s":"D","t":75,"v":-0.2},{"p":"LP","s":"D","t":100,"v":-0.3},{"p":"LP","s":"D","t":125,"v":-0.45},{"p":"LP","s":"D","t":150,"v":-0.55},{"p":"LP","s":"D","t":175,"v":-0.9},{"p":"LP","s":"D","t":200,"v":-1.4},{"p":"LP","s":"D","t":225,"v":-1.25},{"p":"LP","s":"D","t":250,"v":-1.0},{"p":"LP","s":"D","t":275,"v":-0.95},{"p":"LP","s":"D","t":300,"v":-1.0},{"p":"LP","s":"D","t":325,"v":-0.95},{"p":"LP","s":"D","t":350,"v":-0.9},{"p":"LP","s":"D","t":375,"v":-0.85},{"p":"LP","s":"D","t":400,"v":-0.8},{"p":"LP","s":"D","t":425,"v":-0.6},{"p":"LP","s":"D","t":450,"v":-0.4},{"p":"LP","s":"D","t":475,"v":-0.2},{"p":"LP","s":"D","t":500,"v":0.05},{"p":"LP","s":"D","t":525,"v":0.1},{"p":"LP","s":"D","t":550,"v":0.25},{"p":"LP","s":"D","t":575,"v":0.4},{"p":"LP","s":"D","t":600,"v":0.55},{"p":"LP","s":"D","t":625,"v":0.75},{"p":"LP","s":"D","t":650,"v":0.7},{"p":"LP","s":"D","t":675,"v":0.05},{"p":"LP","s":"D","t":700,"v":-0.6},{"p":"LP","s":"D","t":725,"v":-0.8},{"p":"LP","s":"D","t":750,"v":-0.65},{"p":"LP","s":"D","t":775,"v":-0.5},{"p":"LP","s":"D","t":800,"v":-0.3},{"p":"LP","s":"D","t":825,"v":-0.5},{"p":"LP","s":"D","t":850,"v":-0.5},{"p":"LP","s":"D","t":875,"v":-0.6},{"p":"LP","s":"D","t":900,"v":-0.8},{"p":"LP","s":"D","t":925,"v":-0.9},{"p":"LP","s":"D","t":950,"v":-0.85},{"p":"LP","s":"D","t":975,"v":-0.65},{"p":"LP","s":"D","t":1000,"v":-0.55},{"p":"LP","s":"D","t":1025,"v":-0.5},{"p":"LP","s":"D","t":1050,"v":-0.3},{"p":"LP","s":"D","t":1075,"v":-0.05},{"p":"LP","s":"D","t":1100,"v":0.05},
{"p":"LP","s":"E","t":-200,"v":-0.05},{"p":"LP","s":"E","t":-175,"v":-0.2},{"p":"LP","s":"E","t":-150,"v":-0.15},{"p":"LP","s":"E","t":-125,"v":0},{"p":"LP","s":"E","t":-100,"v":0.15},{"p":"LP","s":"E","t":-75,"v":0.35},{"p":"LP","s":"E","t":-50,"v":0.35},{"p":"LP","s":"E","t":-25,"v":0.15},{"p":"LP","s":"E","t":0,"v":-0.2},{"p":"LP","s":"E","t":25,"v":-0.55},{"p":"LP","s":"E","t":50,"v":-0.65},{"p":"LP","s":"E","t":75,"v":-0.55},{"p":"LP","s":"E","t":100,"v":-0.55},{"p":"LP","s":"E","t":125,"v":-0.6},{"p":"LP","s":"E","t":150,"v":-0.85},{"p":"LP","s":"E","t":175,"v":-1.15},{"p":"LP","s":"E","t":200,"v":-1.45},{"p":"LP","s":"E","t":225,"v":-1.4},{"p":"LP","s":"E","t":250,"v":-1.2},{"p":"LP","s":"E","t":275,"v":-1.0},{"p":"LP","s":"E","t":300,"v":-0.9},{"p":"LP","s":"E","t":325,"v":-0.8},{"p":"LP","s":"E","t":350,"v":-0.8},{"p":"LP","s":"E","t":375,"v":-0.7},{"p":"LP","s":"E","t":400,"v":-0.55},{"p":"LP","s":"E","t":425,"v":-0.45},{"p":"LP","s":"E","t":450,"v":-0.4},{"p":"LP","s":"E","t":475,"v":-0.5},{"p":"LP","s":"E","t":500,"v":-0.45},{"p":"LP","s":"E","t":525,"v":-0.2},{"p":"LP","s":"E","t":550,"v":0},{"p":"LP","s":"E","t":575,"v":-0.05},{"p":"LP","s":"E","t":600,"v":-0.2},{"p":"LP","s":"E","t":625,"v":-0.15},{"p":"LP","s":"E","t":650,"v":0.25},{"p":"LP","s":"E","t":675,"v":0.7},{"p":"LP","s":"E","t":700,"v":0.5},{"p":"LP","s":"E","t":725,"v":0.05},{"p":"LP","s":"E","t":750,"v":-0.3},{"p":"LP","s":"E","t":775,"v":-0.5},{"p":"LP","s":"E","t":800,"v":-0.6},{"p":"LP","s":"E","t":825,"v":-0.55},{"p":"LP","s":"E","t":850,"v":-0.4},{"p":"LP","s":"E","t":875,"v":-0.55},{"p":"LP","s":"E","t":900,"v":-0.7},{"p":"LP","s":"E","t":925,"v":-0.8},{"p":"LP","s":"E","t":950,"v":-0.8},{"p":"LP","s":"E","t":975,"v":-0.85},{"p":"LP","s":"E","t":1000,"v":-1.0},{"p":"LP","s":"E","t":1025,"v":-0.9},{"p":"LP","s":"E","t":1050,"v":-0.55},{"p":"LP","s":"E","t":1075,"v":-0.45},{"p":"LP","s":"E","t":1100,"v":-0.5},
{"p":"RP","s":"A","t":-200,"v":-0.55},{"p":"RP","s":"A","t":-175,"v":-0.25},{"p":"RP","s":"A","t":-150,"v":-0.05},{"p":"RP","s":"A","t":-125,"v":0.05},{"p":"RP","s":"A","t":-100,"v":0.05},{"p":"RP","s":"A","t":-75,"v":0.1},{"p":"RP","s":"A","t":-50,"v":0.15},{"p":"RP","s":"A","t":-25,"v":0.15},{"p":"RP","s":"A","t":0,"v":-0.2},{"p":"RP","s":"A","t":25,"v":-0.55},{"p":"RP","s":"A","t":50,"v":-0.8},{"p":"RP","s":"A","t":75,"v":-0.9},{"p":"RP","s":"A","t":100,"v":-0.8},{"p":"RP","s":"A","t":125,"v":-0.6},{"p":"RP","s":"A","t":150,"v":-0.8},{"p":"RP","s":"A","t":175,"v":-1.15},{"p":"RP","s":"A","t":200,"v":-1.5},{"p":"RP","s":"A","t":225,"v":-1.35},{"p":"RP","s":"A","t":250,"v":-0.8},{"p":"RP","s":"A","t":275,"v":-0.65},{"p":"RP","s":"A","t":300,"v":-0.7},{"p":"RP","s":"A","t":325,"v":-0.85},{"p":"RP","s":"A","t":350,"v":-0.8},{"p":"RP","s":"A","t":375,"v":-0.65},{"p":"RP","s":"A","t":400,"v":-0.55},{"p":"RP","s":"A","t":425,"v":-0.5},{"p":"RP","s":"A","t":450,"v":-0.6},{"p":"RP","s":"A","t":475,"v":-1.0},{"p":"RP","s":"A","t":500,"v":-1.4},{"p":"RP","s":"A","t":525,"v":-1.5},{"p":"RP","s":"A","t":550,"v":-1.25},{"p":"RP","s":"A","t":575,"v":-0.95},{"p":"RP","s":"A","t":600,"v":-0.9},{"p":"RP","s":"A","t":625,"v":-1.0},{"p":"RP","s":"A","t":650,"v":-1.0},{"p":"RP","s":"A","t":675,"v":-0.95},{"p":"RP","s":"A","t":700,"v":-1.1},{"p":"RP","s":"A","t":725,"v":-1.0},{"p":"RP","s":"A","t":750,"v":-0.85},{"p":"RP","s":"A","t":775,"v":-0.7},{"p":"RP","s":"A","t":800,"v":-0.5},{"p":"RP","s":"A","t":825,"v":-0.25},{"p":"RP","s":"A","t":850,"v":-0.05},{"p":"RP","s":"A","t":875,"v":0.05},{"p":"RP","s":"A","t":900,"v":0.15},{"p":"RP","s":"A","t":925,"v":0.25},{"p":"RP","s":"A","t":950,"v":0.4},{"p":"RP","s":"A","t":975,"v":0.55},{"p":"RP","s":"A","t":1000,"v":0.55},{"p":"RP","s":"A","t":1025,"v":0.4},{"p":"RP","s":"A","t":1050,"v":0.4},{"p":"RP","s":"A","t":1075,"v":0.45},{"p":"RP","s":"A","t":1100,"v":0.55},
{"p":"RP","s":"B","t":-200,"v":-0.55},{"p":"RP","s":"B","t":-175,"v":-0.2},{"p":"RP","s":"B","t":-150,"v":0},{"p":"RP","s":"B","t":-125,"v":0.05},{"p":"RP","s":"B","t":-100,"v":0.05},{"p":"RP","s":"B","t":-75,"v":0.15},{"p":"RP","s":"B","t":-50,"v":0.3},{"p":"RP","s":"B","t":-25,"v":0.35},{"p":"RP","s":"B","t":0,"v":0.05},{"p":"RP","s":"B","t":25,"v":-0.25},{"p":"RP","s":"B","t":50,"v":-0.4},{"p":"RP","s":"B","t":75,"v":-0.25},{"p":"RP","s":"B","t":100,"v":-0.2},{"p":"RP","s":"B","t":125,"v":-0.25},{"p":"RP","s":"B","t":150,"v":-0.55},{"p":"RP","s":"B","t":175,"v":-0.8},{"p":"RP","s":"B","t":200,"v":-0.8},{"p":"RP","s":"B","t":225,"v":-0.6},{"p":"RP","s":"B","t":250,"v":-0.55},{"p":"RP","s":"B","t":275,"v":-0.8},{"p":"RP","s":"B","t":300,"v":-0.95},{"p":"RP","s":"B","t":325,"v":-1.0},{"p":"RP","s":"B","t":350,"v":-0.85},{"p":"RP","s":"B","t":375,"v":-0.6},{"p":"RP","s":"B","t":400,"v":-0.55},{"p":"RP","s":"B","t":425,"v":-0.4},{"p":"RP","s":"B","t":450,"v":-0.25},{"p":"RP","s":"B","t":475,"v":-0.15},{"p":"RP","s":"B","t":500,"v":0.05},{"p":"RP","s":"B","t":525,"v":0.25},{"p":"RP","s":"B","t":550,"v":0.35},{"p":"RP","s":"B","t":575,"v":0.4},{"p":"RP","s":"B","t":600,"v":0.55},{"p":"RP","s":"B","t":625,"v":0.75},{"p":"RP","s":"B","t":650,"v":0.95},{"p":"RP","s":"B","t":675,"v":1.0},{"p":"RP","s":"B","t":700,"v":0.7},{"p":"RP","s":"B","t":725,"v":0.25},{"p":"RP","s":"B","t":750,"v":-0.25},{"p":"RP","s":"B","t":775,"v":-0.55},{"p":"RP","s":"B","t":800,"v":-0.6},{"p":"RP","s":"B","t":825,"v":-0.55},{"p":"RP","s":"B","t":850,"v":-0.4},{"p":"RP","s":"B","t":875,"v":-0.3},{"p":"RP","s":"B","t":900,"v":-0.5},{"p":"RP","s":"B","t":925,"v":-0.6},{"p":"RP","s":"B","t":950,"v":-0.85},{"p":"RP","s":"B","t":975,"v":-1.15},{"p":"RP","s":"B","t":1000,"v":-1.4},{"p":"RP","s":"B","t":1025,"v":-1.4},{"p":"RP","s":"B","t":1050,"v":-1.25},{"p":"RP","s":"B","t":1075,"v":-1.15},{"p":"RP","s":"B","t":1100,"v":-1.0},
{"p":"RP","s":"C","t":-200,"v":-0.4},{"p":"RP","s":"C","t":-175,"v":-0.2},{"p":"RP","s":"C","t":-150,"v":-0.05},{"p":"RP","s":"C","t":-125,"v":0.05},{"p":"RP","s":"C","t":-100,"v":0.15},{"p":"RP","s":"C","t":-75,"v":0.15},{"p":"RP","s":"C","t":-50,"v":0.25},{"p":"RP","s":"C","t":-25,"v":0.1},{"p":"RP","s":"C","t":0,"v":-0.25},{"p":"RP","s":"C","t":25,"v":-0.65},{"p":"RP","s":"C","t":50,"v":-0.85},{"p":"RP","s":"C","t":75,"v":-0.7},{"p":"RP","s":"C","t":100,"v":-0.6},{"p":"RP","s":"C","t":125,"v":-0.7},{"p":"RP","s":"C","t":150,"v":-1.0},{"p":"RP","s":"C","t":175,"v":-1.4},{"p":"RP","s":"C","t":200,"v":-1.45},{"p":"RP","s":"C","t":225,"v":-1.25},{"p":"RP","s":"C","t":250,"v":-1.0},{"p":"RP","s":"C","t":275,"v":-1.0},{"p":"RP","s":"C","t":300,"v":-1.15},{"p":"RP","s":"C","t":325,"v":-1.2},{"p":"RP","s":"C","t":350,"v":-1.4},{"p":"RP","s":"C","t":375,"v":-1.15},{"p":"RP","s":"C","t":400,"v":-0.7},{"p":"RP","s":"C","t":425,"v":-0.5},{"p":"RP","s":"C","t":450,"v":-0.4},{"p":"RP","s":"C","t":475,"v":-0.6},{"p":"RP","s":"C","t":500,"v":-0.8},{"p":"RP","s":"C","t":525,"v":-0.95},{"p":"RP","s":"C","t":550,"v":-1.4},{"p":"RP","s":"C","t":575,"v":-1.75},{"p":"RP","s":"C","t":600,"v":-1.75},{"p":"RP","s":"C","t":625,"v":-1.6},{"p":"RP","s":"C","t":650,"v":-1.25},{"p":"RP","s":"C","t":675,"v":-1.0},{"p":"RP","s":"C","t":700,"v":-0.95},{"p":"RP","s":"C","t":725,"v":-0.95},{"p":"RP","s":"C","t":750,"v":-0.9},{"p":"RP","s":"C","t":775,"v":-1.0},{"p":"RP","s":"C","t":800,"v":-1.15},{"p":"RP","s":"C","t":825,"v":-1.15},{"p":"RP","s":"C","t":850,"v":-1.2},{"p":"RP","s":"C","t":875,"v":-1.0},{"p":"RP","s":"C","t":900,"v":-0.85},{"p":"RP","s":"C","t":925,"v":-0.7},{"p":"RP","s":"C","t":950,"v":-0.6},{"p":"RP","s":"C","t":975,"v":-0.55},{"p":"RP","s":"C","t":1000,"v":-0.5},{"p":"RP","s":"C","t":1025,"v":-0.4},{"p":"RP","s":"C","t":1050,"v":-0.4},{"p":"RP","s":"C","t":1075,"v":-0.4},{"p":"RP","s":"C","t":1100,"v":-0.4},
{"p":"RP","s":"D","t":-200,"v":-0.5},{"p":"RP","s":"D","t":-175,"v":0},{"p":"RP","s":"D","t":-150,"v":0.15},{"p":"RP","s":"D","t":-125,"v":0.15},{"p":"RP","s":"D","t":-100,"v":0.05},{"p":"RP","s":"D","t":-75,"v":0.1},{"p":"RP","s":"D","t":-50,"v":0.15},{"p":"RP","s":"D","t":-25,"v":0},{"p":"RP","s":"D","t":0,"v":-0.3},{"p":"RP","s":"D","t":25,"v":-0.6},{"p":"RP","s":"D","t":50,"v":-0.55},{"p":"RP","s":"D","t":75,"v":-0.25},{"p":"RP","s":"D","t":100,"v":-0.15},{"p":"RP","s":"D","t":125,"v":-0.25},{"p":"RP","s":"D","t":150,"v":-0.55},{"p":"RP","s":"D","t":175,"v":-0.9},{"p":"RP","s":"D","t":200,"v":-1.25},{"p":"RP","s":"D","t":225,"v":-1.2},{"p":"RP","s":"D","t":250,"v":-0.95},{"p":"RP","s":"D","t":275,"v":-0.9},{"p":"RP","s":"D","t":300,"v":-1.0},{"p":"RP","s":"D","t":325,"v":-1.15},{"p":"RP","s":"D","t":350,"v":-1.0},{"p":"RP","s":"D","t":375,"v":-0.8},{"p":"RP","s":"D","t":400,"v":-0.6},{"p":"RP","s":"D","t":425,"v":-0.5},{"p":"RP","s":"D","t":450,"v":-0.4},{"p":"RP","s":"D","t":475,"v":-0.2},{"p":"RP","s":"D","t":500,"v":0},{"p":"RP","s":"D","t":525,"v":0.05},{"p":"RP","s":"D","t":550,"v":0.25},{"p":"RP","s":"D","t":575,"v":0.4},{"p":"RP","s":"D","t":600,"v":0.5},{"p":"RP","s":"D","t":625,"v":0.55},{"p":"RP","s":"D","t":650,"v":0.4},{"p":"RP","s":"D","t":675,"v":-0.2},{"p":"RP","s":"D","t":700,"v":-0.8},{"p":"RP","s":"D","t":725,"v":-0.95},{"p":"RP","s":"D","t":750,"v":-0.9},{"p":"RP","s":"D","t":775,"v":-0.85},{"p":"RP","s":"D","t":800,"v":-0.9},{"p":"RP","s":"D","t":825,"v":-0.95},{"p":"RP","s":"D","t":850,"v":-1.0},{"p":"RP","s":"D","t":875,"v":-1.15},{"p":"RP","s":"D","t":900,"v":-1.25},{"p":"RP","s":"D","t":925,"v":-1.35},{"p":"RP","s":"D","t":950,"v":-1.15},{"p":"RP","s":"D","t":975,"v":-0.9},{"p":"RP","s":"D","t":1000,"v":-0.8},{"p":"RP","s":"D","t":1025,"v":-0.7},{"p":"RP","s":"D","t":1050,"v":-0.6},{"p":"RP","s":"D","t":1075,"v":-0.5},{"p":"RP","s":"D","t":1100,"v":-0.4},
{"p":"RP","s":"E","t":-200,"v":-0.2},{"p":"RP","s":"E","t":-175,"v":-0.25},{"p":"RP","s":"E","t":-150,"v":-0.15},{"p":"RP","s":"E","t":-125,"v":-0.05},{"p":"RP","s":"E","t":-100,"v":0.05},{"p":"RP","s":"E","t":-75,"v":0.15},{"p":"RP","s":"E","t":-50,"v":0.25},{"p":"RP","s":"E","t":-25,"v":0.05},{"p":"RP","s":"E","t":0,"v":-0.25},{"p":"RP","s":"E","t":25,"v":-0.65},{"p":"RP","s":"E","t":50,"v":-0.85},{"p":"RP","s":"E","t":75,"v":-0.8},{"p":"RP","s":"E","t":100,"v":-0.65},{"p":"RP","s":"E","t":125,"v":-0.65},{"p":"RP","s":"E","t":150,"v":-0.9},{"p":"RP","s":"E","t":175,"v":-1.25},{"p":"RP","s":"E","t":200,"v":-1.5},{"p":"RP","s":"E","t":225,"v":-1.35},{"p":"RP","s":"E","t":250,"v":-1.2},{"p":"RP","s":"E","t":275,"v":-1.0},{"p":"RP","s":"E","t":300,"v":-0.85},{"p":"RP","s":"E","t":325,"v":-0.8},{"p":"RP","s":"E","t":350,"v":-0.65},{"p":"RP","s":"E","t":375,"v":-0.6},{"p":"RP","s":"E","t":400,"v":-0.55},{"p":"RP","s":"E","t":425,"v":-0.4},{"p":"RP","s":"E","t":450,"v":-0.2},{"p":"RP","s":"E","t":475,"v":-0.3},{"p":"RP","s":"E","t":500,"v":-0.4},{"p":"RP","s":"E","t":525,"v":-0.25},{"p":"RP","s":"E","t":550,"v":-0.05},{"p":"RP","s":"E","t":575,"v":-0.15},{"p":"RP","s":"E","t":600,"v":-0.2},{"p":"RP","s":"E","t":625,"v":-0.2},{"p":"RP","s":"E","t":650,"v":0.05},{"p":"RP","s":"E","t":675,"v":0.5},{"p":"RP","s":"E","t":700,"v":0.7},{"p":"RP","s":"E","t":725,"v":0.25},{"p":"RP","s":"E","t":750,"v":-0.4},{"p":"RP","s":"E","t":775,"v":-0.55},{"p":"RP","s":"E","t":800,"v":-0.65},{"p":"RP","s":"E","t":825,"v":-0.6},{"p":"RP","s":"E","t":850,"v":-0.65},{"p":"RP","s":"E","t":875,"v":-0.85},{"p":"RP","s":"E","t":900,"v":-0.8},{"p":"RP","s":"E","t":925,"v":-0.7},{"p":"RP","s":"E","t":950,"v":-0.85},{"p":"RP","s":"E","t":975,"v":-1.0},{"p":"RP","s":"E","t":1000,"v":-1.0},{"p":"RP","s":"E","t":1025,"v":-0.85},{"p":"RP","s":"E","t":1050,"v":-0.65},{"p":"RP","s":"E","t":1075,"v":-0.5},{"p":"RP","s":"E","t":1100,"v":-0.4}
]},
"spacing": 0,
"vconcat": [
 {"spacing": 0, "hconcat": [
  {"width": 375, "height": 169, "transform": [{"filter": "datum.p == 'LF'"}], "layer": [
    {"transform": [{"filter": "datum.s == 'A' && datum.t == -200"}], "mark": {"type": "rule", "color": "#b0b0b0", "strokeWidth": 1, "strokeDash": [1, 2]}, "encoding": {"x": {"datum": 0, "type": "quantitative"}}},
    {"mark": {"type": "line", "strokeWidth": 1.2, "interpolate": "monotone"}, "encoding": {
      "x": {"field": "t", "type": "quantitative", "scale": {"domain": [-200, 1100], "nice": false, "zero": false}, "axis": {"values": [-200, 0, 200, 400, 600, 800, 1000, 1072], "tickCount": 20, "labelExpr": "datum.value == 1072 ? 'ms' : (datum.value < 0 ? '-' + abs(datum.value) : '' + datum.value)"}},
      "y": {"field": "v", "type": "quantitative", "scale": {"domain": [-6, 6], "reverse": true, "nice": false, "zero": false}, "axis": {"values": [-6, -4, -2, 0, 2, 4, 6], "tickCount": 20, "labelFontSize": {"condition": {"test": "datum.value == -6", "value": 8}, "value": 10}, "labelExpr": "datum.value == -6 ? 'µV' : (datum.value < 0 ? '-' + abs(datum.value) : '' + datum.value)"}},
      "color": {"field": "s", "type": "nominal", "scale": {"domain": ["A", "B", "C", "D", "E"], "range": ["#000000", "#dc2878", "#7b68ee", "#f5640f", "#6495ed"]},
        "legend": {"labelExpr": "datum.label == 'A' ? 'No cues (A)' : datum.label == 'B' ? 'All cues (B)' : datum.label == 'C' ? 'No pause (C)' : datum.label == 'D' ? 'No final lengthening (D)' : 'No pitch (E)'",
                   "encode": {"symbols": {"update": {"fill": {"scale": "color", "field": "value"}, "fillOpacity": {"value": 1}}}}}}}},
    {"transform": [{"filter": "datum.s == 'A' && datum.t == -200"}], "mark": {"type": "rule", "color": "#222222", "strokeWidth": 1.3}, "encoding": {"x": {"datum": 500, "type": "quantitative"}}},
    {"transform": [{"filter": "datum.s == 'A' && datum.t == -200"}], "mark": {"type": "rule", "color": "#222222", "strokeWidth": 1.3}, "encoding": {"x": {"datum": 800, "type": "quantitative"}}},
    {"transform": [{"filter": "datum.s == 'A' && datum.t == -200"}], "mark": {"type": "text", "align": "left", "baseline": "middle", "font": "Open Sans", "fontSize": 16, "color": "#000000"}, "encoding": {"x": {"datum": -142, "type": "quantitative"}, "y": {"datum": -5.2, "type": "quantitative"}, "text": {"field": "p"}}}
  ]},
  {"width": 375, "height": 169, "transform": [{"filter": "datum.p == 'RF'"}], "layer": [
    {"transform": [{"filter": "datum.s == 'A' && datum.t == -200"}], "mark": {"type": "rule", "color": "#b0b0b0", "strokeWidth": 1, "strokeDash": [1, 2]}, "encoding": {"x": {"datum": 0, "type": "quantitative"}}},
    {"mark": {"type": "line", "strokeWidth": 1.2, "interpolate": "monotone"}, "encoding": {
      "x": {"field": "t", "type": "quantitative", "scale": {"domain": [-200, 1100], "nice": false, "zero": false}, "axis": {"values": [-200, 0, 200, 400, 600, 800, 1000, 1072], "tickCount": 20, "labelExpr": "datum.value == 1072 ? 'ms' : (datum.value < 0 ? '-' + abs(datum.value) : '' + datum.value)"}},
      "y": {"field": "v", "type": "quantitative", "scale": {"domain": [-6, 6], "reverse": true, "nice": false, "zero": false}, "axis": {"values": [-6, -4, -2, 0, 2, 4, 6], "tickCount": 20, "labelFontSize": {"condition": {"test": "datum.value == -6", "value": 8}, "value": 10}, "labelExpr": "datum.value == -6 ? 'µV' : (datum.value < 0 ? '-' + abs(datum.value) : '' + datum.value)"}},
      "color": {"field": "s", "type": "nominal", "scale": {"domain": ["A", "B", "C", "D", "E"], "range": ["#000000", "#dc2878", "#7b68ee", "#f5640f", "#6495ed"]}}}},
    {"transform": [{"filter": "datum.s == 'A' && datum.t == -200"}], "mark": {"type": "rule", "color": "#222222", "strokeWidth": 1.3}, "encoding": {"x": {"datum": 500, "type": "quantitative"}}},
    {"transform": [{"filter": "datum.s == 'A' && datum.t == -200"}], "mark": {"type": "rule", "color": "#222222", "strokeWidth": 1.3}, "encoding": {"x": {"datum": 800, "type": "quantitative"}}},
    {"transform": [{"filter": "datum.s == 'A' && datum.t == -200"}], "mark": {"type": "text", "align": "left", "baseline": "middle", "font": "Open Sans", "fontSize": 16, "color": "#000000"}, "encoding": {"x": {"datum": -142, "type": "quantitative"}, "y": {"datum": -5.2, "type": "quantitative"}, "text": {"field": "p"}}}
  ]}
 ]},
 {"spacing": 0, "hconcat": [
  {"width": 375, "height": 169, "transform": [{"filter": "datum.p == 'LP'"}], "layer": [
    {"transform": [{"filter": "datum.s == 'A' && datum.t == -200"}], "mark": {"type": "rule", "color": "#b0b0b0", "strokeWidth": 1, "strokeDash": [1, 2]}, "encoding": {"x": {"datum": 0, "type": "quantitative"}}},
    {"mark": {"type": "line", "strokeWidth": 1.2, "interpolate": "monotone"}, "encoding": {
      "x": {"field": "t", "type": "quantitative", "scale": {"domain": [-200, 1100], "nice": false, "zero": false}, "axis": {"values": [-200, 0, 200, 400, 600, 800, 1000, 1072], "tickCount": 20, "labelExpr": "datum.value == 1072 ? 'ms' : (datum.value < 0 ? '-' + abs(datum.value) : '' + datum.value)"}},
      "y": {"field": "v", "type": "quantitative", "scale": {"domain": [-6, 6], "reverse": true, "nice": false, "zero": false}, "axis": {"values": [-6, -4, -2, 0, 2, 4, 6], "tickCount": 20, "labelFontSize": {"condition": {"test": "datum.value == -6", "value": 8}, "value": 10}, "labelExpr": "datum.value == -6 ? 'µV' : (datum.value < 0 ? '-' + abs(datum.value) : '' + datum.value)"}},
      "color": {"field": "s", "type": "nominal", "scale": {"domain": ["A", "B", "C", "D", "E"], "range": ["#000000", "#dc2878", "#7b68ee", "#f5640f", "#6495ed"]}}}},
    {"transform": [{"filter": "datum.s == 'A' && datum.t == -200"}], "mark": {"type": "rule", "color": "#222222", "strokeWidth": 1.3}, "encoding": {"x": {"datum": 500, "type": "quantitative"}}},
    {"transform": [{"filter": "datum.s == 'A' && datum.t == -200"}], "mark": {"type": "rule", "color": "#222222", "strokeWidth": 1.3}, "encoding": {"x": {"datum": 800, "type": "quantitative"}}},
    {"transform": [{"filter": "datum.s == 'A' && datum.t == -200"}], "mark": {"type": "text", "align": "left", "baseline": "middle", "font": "Open Sans", "fontSize": 16, "color": "#000000"}, "encoding": {"x": {"datum": -142, "type": "quantitative"}, "y": {"datum": -5.2, "type": "quantitative"}, "text": {"field": "p"}}}
  ]},
  {"width": 375, "height": 169, "transform": [{"filter": "datum.p == 'RP'"}], "layer": [
    {"transform": [{"filter": "datum.s == 'A' && datum.t == -200"}], "mark": {"type": "rule", "color": "#b0b0b0", "strokeWidth": 1, "strokeDash": [1, 2]}, "encoding": {"x": {"datum": 0, "type": "quantitative"}}},
    {"mark": {"type": "line", "strokeWidth": 1.2, "interpolate": "monotone"}, "encoding": {
      "x": {"field": "t", "type": "quantitative", "scale": {"domain": [-200, 1100], "nice": false, "zero": false}, "axis": {"values": [-200, 0, 200, 400, 600, 800, 1000, 1072], "tickCount": 20, "labelExpr": "datum.value == 1072 ? 'ms' : (datum.value < 0 ? '-' + abs(datum.value) : '' + datum.value)"}},
      "y": {"field": "v", "type": "quantitative", "scale": {"domain": [-6, 6], "reverse": true, "nice": false, "zero": false}, "axis": {"values": [-6, -4, -2, 0, 2, 4, 6], "tickCount": 20, "labelFontSize": {"condition": {"test": "datum.value == -6", "value": 8}, "value": 10}, "labelExpr": "datum.value == -6 ? 'µV' : (datum.value < 0 ? '-' + abs(datum.value) : '' + datum.value)"}},
      "color": {"field": "s", "type": "nominal", "scale": {"domain": ["A", "B", "C", "D", "E"], "range": ["#000000", "#dc2878", "#7b68ee", "#f5640f", "#6495ed"]}}}},
    {"transform": [{"filter": "datum.s == 'A' && datum.t == -200"}], "mark": {"type": "rule", "color": "#222222", "strokeWidth": 1.3}, "encoding": {"x": {"datum": 500, "type": "quantitative"}}},
    {"transform": [{"filter": "datum.s == 'A' && datum.t == -200"}], "mark": {"type": "rule", "color": "#222222", "strokeWidth": 1.3}, "encoding": {"x": {"datum": 800, "type": "quantitative"}}},
    {"transform": [{"filter": "datum.s == 'A' && datum.t == -200"}], "mark": {"type": "text", "align": "left", "baseline": "middle", "font": "Open Sans", "fontSize": 16, "color": "#000000"}, "encoding": {"x": {"datum": -142, "type": "quantitative"}, "y": {"datum": -5.2, "type": "quantitative"}, "text": {"field": "p"}}}
  ]}
 ]}
],
"config": {
  "view": {"stroke": null},
  "axis": {"title": null, "grid": false, "labelOverlap": false, "tickSize": 2, "labelPadding": 1, "domainColor": "#999999", "tickColor": "#999999", "labelColor": "#444444", "labelFont": "Liberation Sans", "labelFontSize": 10},
  "legend": {"title": null, "orient": "bottom", "direction": "horizontal", "symbolType": "square", "symbolSize": 70, "symbolStrokeColor": "#333333", "symbolStrokeWidth": 0.6, "labelFont": "Open Sans", "labelFontSize": 15, "labelLimit": 400, "labelColor": "#000000", "columnPadding": 28, "labelOffset": 5, "offset": 16}
}
}
